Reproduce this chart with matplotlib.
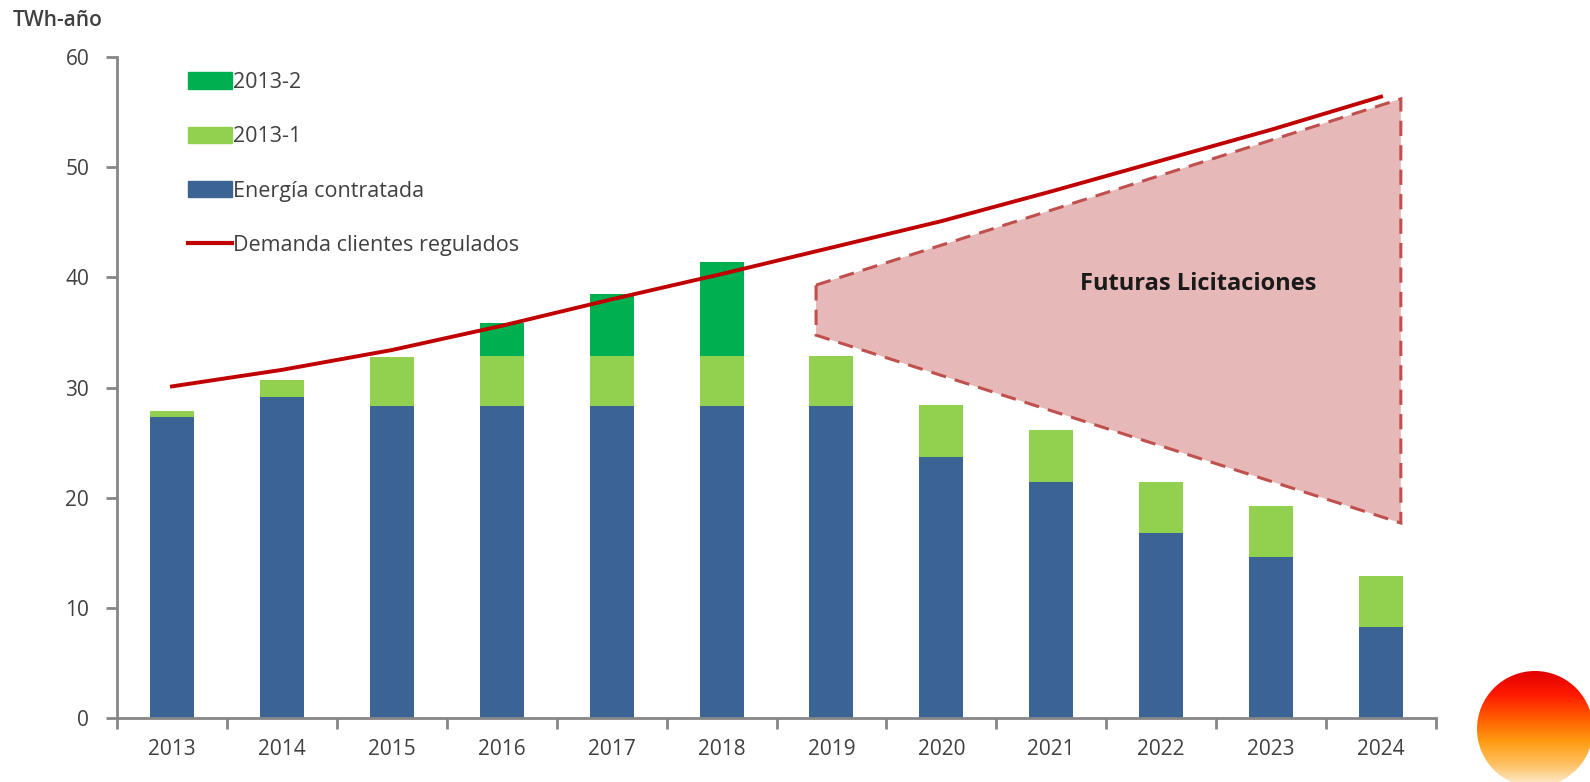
import numpy as np
import matplotlib
matplotlib.use("Agg")
import matplotlib.pyplot as plt
from matplotlib.patches import Patch, Polygon, Circle
from matplotlib.lines import Line2D
from matplotlib.colors import LinearSegmentedColormap

plt.rcParams['font.family'] = ['Open Sans', 'DejaVu Sans']

# data
years = ['2013', '2014', '2015', '2016', '2017', '2018',
         '2019', '2020', '2021', '2022', '2023', '2024']
energia = [27.3, 29.1, 28.3, 28.3, 28.3, 28.3, 28.3, 23.7, 21.4, 16.8, 14.6, 8.3]
lic_2013_1 = [0.6, 1.6, 4.5, 4.6, 4.6, 4.6, 4.6, 4.7, 4.7, 4.6, 4.6, 4.6]
lic_2013_2 = [0, 0, 0, 3.0, 5.6, 8.5, 0, 0, 0, 0, 0, 0]
demanda = [30.1, 31.6, 33.4, 35.6, 38.0, 40.3, 42.7, 45.1, 47.8, 50.6, 53.4, 56.4]

# "Futuras Licitaciones" area (x in category units, y in TWh)
futuras_x = [5.86, 11.18, 11.18, 5.86]
futuras_y = [39.3, 56.2, 17.7, 34.75]

c_blue = '#3B6494'
c_light = '#92D050'
c_dark = '#00B050'
c_red = '#C00000'
c_axis = '#868686'
c_text = '#404040'

W, H = 1590, 782
fig = plt.figure(figsize=(W / 100, H / 100), dpi=100)
ax = fig.add_axes([117 / W, 1 - 718 / H, (1436 - 117) / W, (718 - 57) / H])

x = np.arange(len(years))
bw = 0.40
e = np.array(energia)
l1 = np.array(lic_2013_1)
l2 = np.array(lic_2013_2)
ax.bar(x, e, bw, color=c_blue, zorder=2)
ax.bar(x, l1, bw, bottom=e, color=c_light, zorder=2)
ax.bar(x, l2, bw, bottom=e + l1, color=c_dark, zorder=2)

poly = Polygon(list(zip(futuras_x, futuras_y)), closed=True, facecolor='#E6B8B7',
               edgecolor='#C0504D', linewidth=2.2, linestyle=(0, (5, 3)), zorder=3)
ax.add_patch(poly)
ax.plot(x, demanda, color=c_red, linewidth=2.8, zorder=4)

ax.text(9.34, 39.4, 'Futuras Licitaciones', ha='center', va='center',
        fontsize=17, fontweight='bold', color='#1A1A1A', zorder=5)

ax.set_xlim(-0.5, len(years) - 0.5)
ax.set_ylim(0, 60)
ax.set_yticks(range(0, 61, 10))
ax.set_xticks(np.arange(-0.5, len(years), 1.0))
ax.set_xticklabels([])
ax.set_xticks(x, minor=True)
ax.set_xticklabels(years, minor=True)
ax.tick_params(axis='x', which='major', length=8, width=2, color=c_axis, direction='out')
ax.tick_params(axis='x', which='minor', length=0, pad=15, labelsize=15, labelcolor=c_text)
ax.tick_params(axis='y', length=8, width=2, color=c_axis, pad=12,
               labelsize=15, labelcolor=c_text)
for s in ['top', 'right']:
    ax.spines[s].set_visible(False)
for s in ['left', 'bottom']:
    ax.spines[s].set_color(c_axis)
    ax.spines[s].set_linewidth(2)

handles = [Patch(color=c_dark), Patch(color=c_light), Patch(color=c_blue),
           Line2D([0], [0], color=c_red, linewidth=3)]
labels = ['2013-2', '2013-1', 'Energía contratada', 'Demanda clientes regulados']
leg = ax.legend(handles, labels, loc='upper left',
                bbox_to_anchor=(188 / W, 1 - 72 / H), bbox_transform=fig.transFigure,
                frameon=False, fontsize=15.5, handlelength=2.05, handleheight=0.8,
                handletextpad=0.05, labelspacing=1.55, borderpad=0, borderaxespad=0)
for t in leg.get_texts():
    t.set_color(c_text)

fig.text(13 / W, 1 - 21 / H, 'TWh-año', ha='left', va='center', fontsize=15,
         fontweight='semibold', color=c_text)

# round logo bottom right
lax = fig.add_axes([1470 / W, 0, 120 / W, 120 / H])
lax.set_xlim(0, 120)
lax.set_ylim(0, 120)
lax.axis('off')
cmap = LinearSegmentedColormap.from_list(
    'sun', ['#FDEFD8', '#FFC060', '#FF9A10', '#FF5A00', '#FF1A00', '#E00000'])
grad = np.linspace(0, 1, 256).reshape(-1, 1)
im = lax.imshow(grad, extent=[0, 120, -5, 111], origin='lower', cmap=cmap, aspect='auto')
circ = Circle((65, 53), 58, transform=lax.transData, facecolor='none', edgecolor='none')
lax.add_patch(circ)
im.set_clip_path(circ)

fig.savefig('out.png', dpi=100)
